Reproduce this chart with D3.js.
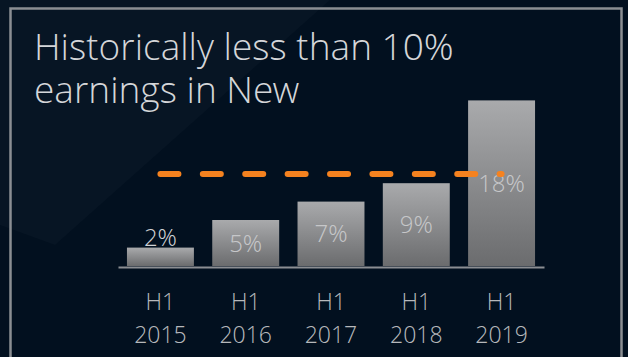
<!DOCTYPE html>
<html>
<head>
<meta charset="utf-8">
<script src="https://cdn.jsdelivr.net/npm/d3@7"></script>
<style>
  html, body { margin: 0; padding: 0; background: #02101f; }
  svg { display: block; }
  text { font-family: "Open Sans Light", "Open Sans", "Noto Sans", sans-serif; font-weight: 300; }
</style>
</head>
<body>
<svg id="chart" width="628" height="357"></svg>
<script>
// Share of earnings per half-year period
const periods = ["H1 2015", "H1 2016", "H1 2017", "H1 2018", "H1 2019"];
const periodLines = [["H1", "2015"], ["H1", "2016"], ["H1", "2017"], ["H1", "2018"], ["H1", "2019"]];
const shares = [2, 5, 7, 9, 18];
const valueLabels = ["2%", "5%", "7%", "9%", "18%"];
const threshold = 10;
const titleLines = ["Historically less than 10%", "earnings in New"];

const W = 628, H = 357;
const svg = d3.select("#chart");
const defs = svg.append("defs");

// Background with a faint lighter wedge in the upper left
svg.append("rect").attr("width", W).attr("height", H).attr("fill", "#02101f");
svg.append("path")
  .attr("d", "M0,0 L330,0 L55,245 L0,225 Z")
  .attr("fill", "#ffffff")
  .attr("fill-opacity", 0.022);

// Frame
svg.append("rect")
  .attr("x", 10.5).attr("y", 8.5)
  .attr("width", 611).attr("height", 400)
  .attr("fill", "none")
  .attr("stroke", "#8b8e93")
  .attr("stroke-width", 2.5);

// Title
const title = svg.append("text").attr("fill", "#d4d6d9").attr("font-size", 37);
titleLines.forEach((t, i) => {
  title.append("tspan").attr("x", 34).attr("y", 60 + i * 43).text(t);
});

// Scales
const x = d3.scaleBand().domain(periods).range([118, 544])
  .paddingInner(0.215).paddingOuter(0.105);
const baseY = 266;
const y = d3.scaleLinear().domain([0, 20]).range([baseY, baseY - 184]);

// Bar fill gradient
const barGrad = defs.append("linearGradient").attr("id", "barGrad")
  .attr("x1", "0").attr("y1", "0").attr("x2", "0").attr("y2", "1");
barGrad.append("stop").attr("offset", "0%").attr("stop-color", "#a9aaac");
barGrad.append("stop").attr("offset", "100%").attr("stop-color", "#6b6c6e");

svg.append("g").selectAll("rect")
  .data(shares)
  .join("rect")
  .attr("x", (d, i) => x(periods[i]))
  .attr("y", d => y(d))
  .attr("width", x.bandwidth())
  .attr("height", d => y(0) - y(d))
  .attr("fill", "url(#barGrad)");

// Baseline axis
const xAxis = d3.axisBottom(x).tickSize(0).tickFormat("");
const axisG = svg.append("g").attr("transform", `translate(0,${baseY + 1})`).call(xAxis);
axisG.select(".domain").attr("stroke", "#8b8e93").attr("stroke-width", 2);

// Category labels on two lines
const catG = svg.append("g");
periodLines.forEach((lines, i) => {
  const cx = x(periods[i]) + x.bandwidth() / 2;
  const t = catG.append("text")
    .attr("text-anchor", "middle")
    .attr("fill", "#b6b8bb")
    .attr("font-size", 23);
  lines.forEach((l, j) => {
    t.append("tspan").attr("x", cx).attr("y", 310 + j * 33).text(l);
  });
});

// Value labels: centred inside the bar, or above it when the bar is too short
svg.append("g").selectAll("text")
  .data(shares)
  .join("text")
  .attr("text-anchor", "middle")
  .attr("font-size", 24)
  .attr("x", (d, i) => x(periods[i]) + x.bandwidth() / 2)
  .attr("y", d => {
    const h = y(0) - y(d);
    return h < 30 ? y(d) - 2 : (y(d) + y(0)) / 2 + 8.5;
  })
  .attr("fill", d => (y(0) - y(d) < 30 ? "#d0d2d5" : "#c6c7c9"))
  .text((d, i) => valueLabels[i]);

// Threshold line across the bar centres
const x0 = x(periods[0]) + x.bandwidth() / 2;
const x1 = x(periods[periods.length - 1]) + x.bandwidth() / 2;
svg.append("line")
  .attr("x1", x0).attr("x2", x1)
  .attr("y1", y(threshold)).attr("y2", y(threshold))
  .attr("stroke", "#f5821f")
  .attr("stroke-width", 6)
  .attr("stroke-linecap", "round")
  .attr("stroke-dasharray", "18 24.4");
</script>
</body>
</html>
